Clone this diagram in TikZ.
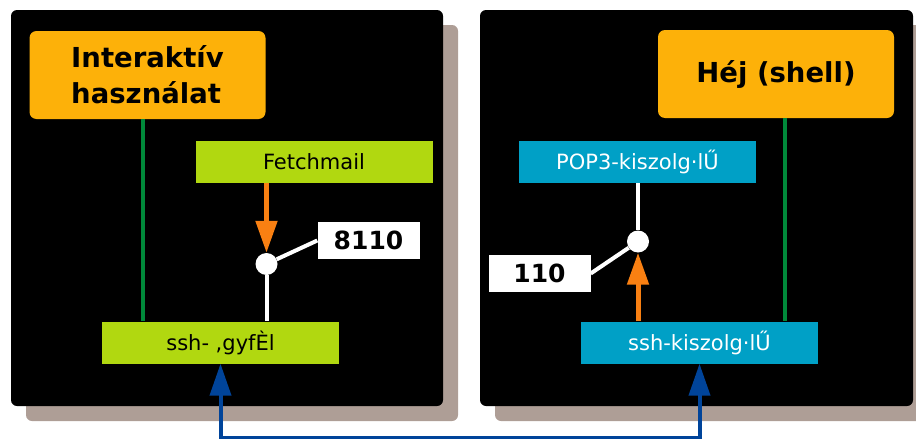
\documentclass[tikz,border=0pt]{standalone}
\usepackage{fontspec}
\setmainfont{DejaVu Sans}
\usetikzlibrary{arrows.meta}

\definecolor{shadowgray}{HTML}{AE9E96}
\definecolor{titleorange}{HTML}{FDB109}
\definecolor{limegreen}{HTML}{B1D810}
\definecolor{servblue}{HTML}{00A0C6}
\definecolor{linkgreen}{HTML}{00893A}
\definecolor{portorange}{HTML}{F98012}
\definecolor{sshblue}{HTML}{00449A}

\tikzset{
  panel/.style={fill=black, rounded corners=6pt},
  shadow/.style={fill=shadowgray, rounded corners=6pt},
  title/.style={fill=titleorange, rounded corners=7pt, inner sep=0pt,
    minimum width=236pt, minimum height=88pt,
    font=\bfseries\fontsize{27.5}{36}\selectfont},
  client/.style={fill=limegreen, inner sep=0pt, minimum width=237pt,
    minimum height=42pt, font=\fontsize{21}{24}\selectfont},
  server/.style={client, fill=servblue, text=white},
  port/.style={fill=white, inner sep=0pt, minimum width=102pt,
    minimum height=37pt, font=\bfseries\fontsize{25}{30}\selectfont},
  joint/.style={circle, fill=white, inner sep=0pt, minimum size=22pt},
  greenline/.style={draw=linkgreen, line width=4.5pt},
  whiteline/.style={draw=white, line width=4pt},
  portarrow/.style={draw=portorange, line width=5pt, ->},
  sshline/.style={draw=sshblue, line width=4pt, <->}
}

\begin{document}
\begin{tikzpicture}[x=1pt, y=-1pt, >={Triangle[length=32pt,width=21pt]}]
  \clip (0,0) rectangle (916,439);

  % panels with shadows
  \fill[shadow] (26,25) rectangle (458,421);
  \fill[panel] (11,10) rectangle (443,406);
  \fill[shadow] (495,25) rectangle (930,421);
  \fill[panel] (480,10) rectangle (913,406);

  % left side: client machine
  \node[title, align=left] (interakt) at (147.5,75) {Interaktív\\használat};
  \node[client] (fetch) at (314,162) {Fetchmail};
  \node[client] (sshc) at (220.5,342.5) {ssh- ,gyfÈl};
  \node[joint] (jl) at (266.5,264) {};
  \node[port] (port1) at (368.5,240.5) {8110};

  % right side: server machine
  \node[title] (shell) at (776,74) {Héj (shell)};
  \node[server] (pop) at (637.5,162) {POP3-kiszolg·lŰ};
  \node[server] (sshs) at (699.5,342.5) {ssh-kiszolg·lŰ};
  \node[joint] (jr) at (638,241.5) {};
  \node[port] (port2) at (539.5,273.5) {110};

  % connections
  \draw[greenline] ([xshift=-4.5pt]interakt.south) -- ([xshift=-4.5pt]interakt.south |- sshc.north);
  \draw[greenline] ([xshift=9pt]shell.south) -- ([xshift=9pt]shell.south |- sshs.north);
  \draw[portarrow] (jl |- fetch.south) -- (jl.north);
  \draw[whiteline] (jl) -- (jl |- sshc.north);
  \draw[whiteline] (jl) -- (port1.west);
  \draw[whiteline] (jr |- pop.south) -- (jr);
  \draw[portarrow] (jr |- sshs.north) -- (jr.south);
  \draw[whiteline] (jr) -- (port2.east);

  % ssh tunnel
  \draw[sshline] (sshc.south) -- ++(0,74) -| (sshs.south);
\end{tikzpicture}
\end{document}
